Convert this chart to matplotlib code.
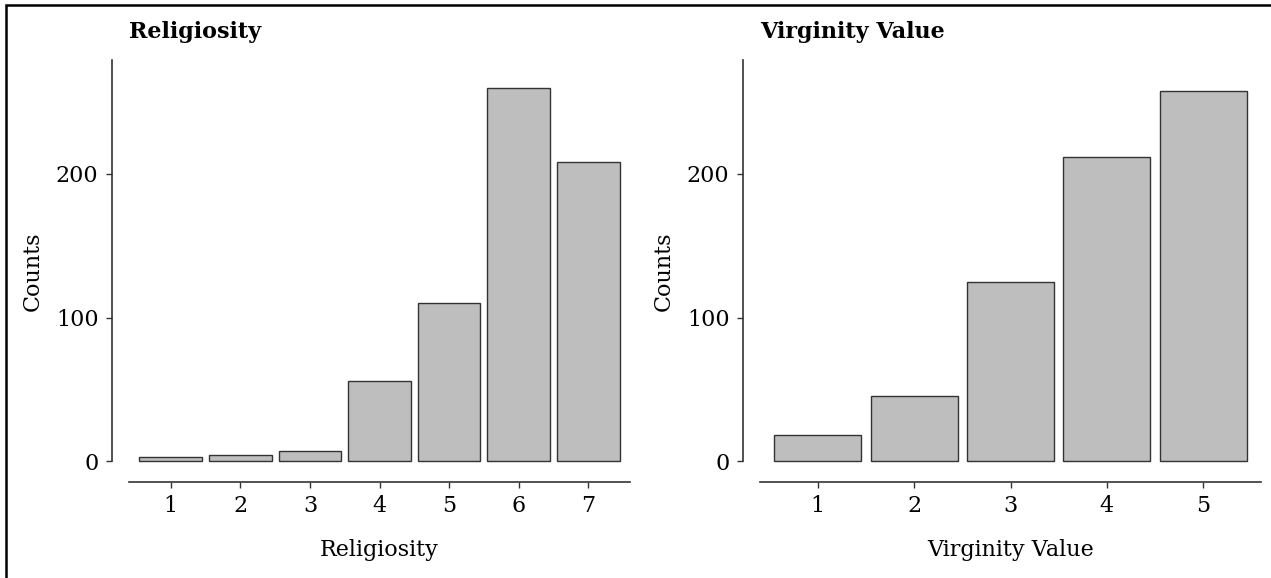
import matplotlib
matplotlib.use("Agg")
import matplotlib.pyplot as plt
from matplotlib.patches import Rectangle

# Religiosity counts (1-7)
relig_levels = ["1", "2", "3", "4", "5", "6", "7"]
relig_counts = [3, 4, 7, 56, 110, 260, 208]

# Virginity value counts (1-5)
virg_levels = ["1", "2", "3", "4", "5"]
virg_counts = [18, 45, 125, 212, 258]

BAR_FILL = "#BEBEBE"
EDGE = "#333333"
AXIS = "#333333"

plt.rcParams["font.family"] = "DejaVu Serif"
plt.rcParams["font.size"] = 16

W, H = 1271, 578
fig = plt.figure(figsize=(W / 100, H / 100), dpi=100)


def panel(left_px, levels, counts, title):
    ax = fig.add_axes([left_px / W, (H - 482) / H, 501 / W, 422 / H])
    xs = list(range(1, len(levels) + 1))
    ax.bar(xs, counts, width=0.9, color=BAR_FILL, edgecolor=EDGE, linewidth=1.0)
    ax.set_xlim(0.4, len(levels) + 0.6)
    ax.set_ylim(-14.6, 279.4)
    ax.set_xticks(xs)
    ax.set_xticklabels(levels)
    ax.set_yticks([0, 100, 200])
    for s in ("top", "right"):
        ax.spines[s].set_visible(False)
    ax.spines["left"].set_position(("outward", 12.5))
    ax.spines["left"].set_bounds(0, 279.4)
    for s in ("left", "bottom"):
        ax.spines[s].set_color(AXIS)
        ax.spines[s].set_linewidth(1.2)
    ax.tick_params(axis="both", colors=AXIS, labelcolor="black",
                   length=4.5, width=1.0, labelsize=16, pad=5)
    ax.set_ylabel("Counts", fontsize=16, labelpad=9)
    ax.set_xlabel(title, fontsize=16, labelpad=16)
    ax.set_title(title, loc="left", fontsize=16, fontweight="bold", pad=16)
    return ax


panel(129, relig_levels, relig_counts, "Religiosity")
panel(760, virg_levels, virg_counts, "Virginity Value")

# outer frame, cut off at right and bottom like the source image
fig.patches.append(Rectangle((5.5 / W, -0.05), 1.2, (H - 5.5) / H + 0.05,
                             transform=fig.transFigure, fill=False,
                             edgecolor="black", linewidth=1.8))

fig.savefig("out.png", dpi=100, facecolor="white")
